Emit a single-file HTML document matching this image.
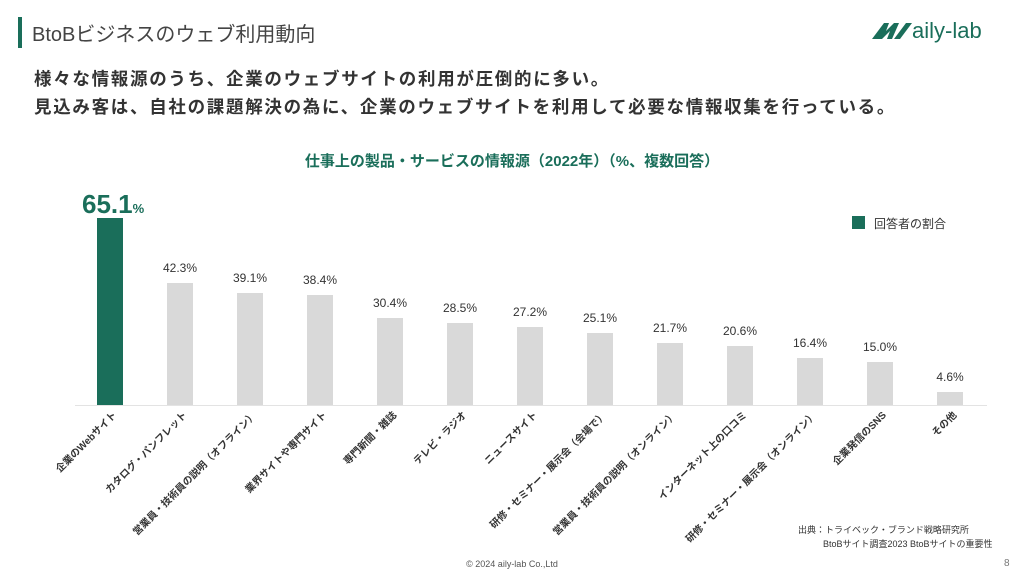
<!DOCTYPE html>
<html><head><meta charset="utf-8"><style>
body{margin:0;width:1024px;height:576px;background:#fff;position:relative;overflow:hidden;font-family:"Liberation Sans","Noto Sans CJK JP",sans-serif;}
.a{position:absolute;white-space:nowrap;}
.lbl{position:absolute;font-size:10px;font-weight:bold;color:#333;transform-origin:100% 50%;transform:rotate(-45deg);white-space:nowrap;text-align:right;}
.v{position:absolute;font-size:12px;color:#333;width:60px;text-align:center;}
.bar{position:absolute;width:26px;background:#d9d9d9;}
</style></head><body>
<div class="a" style="left:18px;top:17px;width:4px;height:31px;background:#1a6e5a"></div>
<div class="a" style="left:32px;top:18px;font-size:20px;color:#444;">BtoBビジネスのウェブ利用動向</div>
<div class="a" style="left:872px;top:18px;font-size:22px;color:#1a6e5a;"><svg width="40" height="22" style="vertical-align:-3px" viewBox="0 0 40 22"><path d="M0 20 L12 4 L17 4 L14 12 L22 4 L27 4 L20 20 L15 20 L18 12 L10 20 Z M22 20 L34 4 L40 4 L28 20 Z" fill="#1a6e5a"/></svg>aily-lab</div>
<div class="a" style="left:34px;top:65px;font-size:17.5px;font-weight:bold;color:#333;letter-spacing:1.7px;line-height:28px;">様々な情報源のうち、企業のウェブサイトの利用が圧倒的に多い。<br>見込み客は、自社の課題解決の為に、企業のウェブサイトを利用して必要な情報収集を行っている。</div>
<div class="a" style="left:0;width:1024px;top:150px;text-align:center;font-size:15px;font-weight:bold;color:#1a6e5a;">仕事上の製品・サービスの情報源（2022年）（%、複数回答）</div>
<div class="a" style="left:82px;top:189px;font-size:26px;font-weight:bold;color:#1a6e5a;">65.1<span style="font-size:13px">%</span></div>
<div class="a" style="left:852px;top:216px;width:13px;height:13px;background:#1a6e5a"></div>
<div class="a" style="left:874px;top:215px;font-size:12px;color:#333;">回答者の割合</div>
<div class="a" style="left:75px;top:405px;width:912px;height:1px;background:#e3e3e3"></div>
<div id="c"></div>
<div class="a" style="left:798px;top:523px;font-size:9px;color:#333;">出典：トライベック・ブランド戦略研究所</div>
<div class="a" style="left:823px;top:537px;font-size:9px;color:#333;">BtoBサイト調査2023 BtoBサイトの重要性</div>
<div class="a" style="left:0;width:1024px;top:559px;text-align:center;font-size:9px;color:#555;">© 2024 aily-lab Co.,Ltd</div>
<div class="a" style="left:1004px;top:558px;font-size:10px;color:#777;">8</div>
<script>
var d=[["企業のWebサイト",65.1],["カタログ・パンフレット",42.3],["営業員・技術員の説明（オフライン）",39.1],["業界サイトや専門サイト",38.4],["専門新聞・雑誌",30.4],["テレビ・ラジオ",28.5],["ニュースサイト",27.2],["研修・セミナー・展示会（会場で）",25.1],["営業員・技術員の説明（オンライン）",21.7],["インターネット上の口コミ",20.6],["研修・セミナー・展示会（オンライン）",16.4],["企業発信のSNS",15.0],["その他",4.6]];
var h="";
d.forEach(function(e,i){var cx=110+i*70,bh=e[1]*2.875,top=405-bh;
h+='<div class="bar" style="left:'+(cx-13)+'px;top:'+top+'px;height:'+bh+'px;'+(i==0?'background:#1a6e5a':'')+'"></div>';
if(i>0)h+='<div class="v" style="left:'+(cx-30)+'px;top:'+(top-22)+'px">'+e[1].toFixed(1)+'%</div>';
h+='<div class="lbl" style="right:'+(1024-cx-4)+'px;top:405px;">'+e[0]+'</div>';});
document.getElementById("c").innerHTML=h;
</script>
</body></html>
